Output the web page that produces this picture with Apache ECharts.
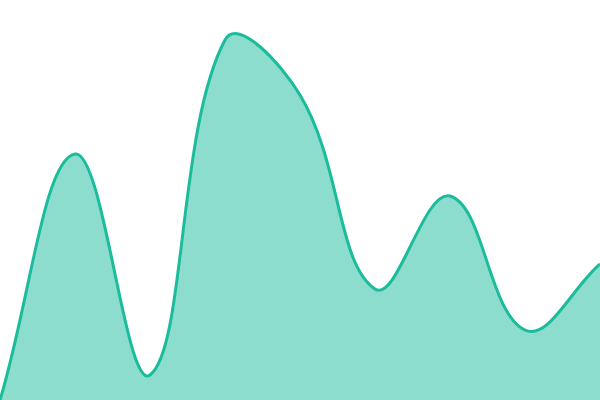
<!DOCTYPE html>
<html><head><meta charset="utf-8">
<script src="https://cdn.jsdelivr.net/npm/echarts@6/dist/echarts.min.js"></script>
<style>html,body{margin:0;padding:0;background:#fff}#c{width:600px;height:400px}</style>
</head><body><div id="c"></div>
<script>
const categories = ['1','2','3','4','5','6','7','8','9'];
const values = [0, 246, 25, 360, 305, 111, 204, 70, 136];
const chart = echarts.init(document.getElementById('c'));

// length-weighted cardinal spline (tension 0.4) through the coordinates given by the axes
function curvePath(pts, t) {
  const dist = (a, b) => Math.hypot(a[0] - b[0], a[1] - b[1]);
  const cps = pts.map((p, i) => {
    const p0 = pts[i - 1] || p, p2 = pts[i + 1] || p;
    const d01 = dist(p0, p), d12 = dist(p, p2);
    let s01 = d01 / (d01 + d12), s12 = d12 / (d01 + d12);
    if (!isFinite(s01)) s01 = 0;
    if (!isFinite(s12)) s12 = 0;
    const fa = t * s01, fb = t * s12;
    return {
      prev: [p[0] - fa * (p2[0] - p0[0]), p[1] - fa * (p2[1] - p0[1])],
      next: [p[0] + fb * (p2[0] - p0[0]), p[1] + fb * (p2[1] - p0[1])]
    };
  });
  let d = 'M' + pts[0][0] + ' ' + pts[0][1];
  for (let i = 0; i < pts.length - 1; i++) {
    const a = cps[i].next, b = cps[i + 1].prev, p = pts[i + 1];
    d += ' C' + a[0] + ' ' + a[1] + ' ' + b[0] + ' ' + b[1] + ' ' + p[0] + ' ' + p[1];
  }
  return d;
}

function renderItem(params, api) {
  if (params.dataIndex !== 0) return null;
  const pts = [];
  for (let i = 0; i < values.length; i++) pts.push(api.coord([i, values[i]]));
  const base = api.coord([0, 0])[1];
  const d = curvePath(pts, 0.4);
  const last = pts[pts.length - 1];
  const area = d + ' L' + last[0] + ' ' + base + ' L' + pts[0][0] + ' ' + base + ' Z';
  return {
    type: 'group',
    children: [
      {type: 'path', shape: {pathData: area}, style: {fill: 'rgba(26,188,156,0.5)', stroke: null}},
      {type: 'path', shape: {pathData: d}, style: {fill: null, stroke: '#1abc9c', lineWidth: 3}}
    ]
  };
}

chart.setOption({
  animation: false,
  grid: {left: 0, right: 0, top: 0, bottom: 0},
  xAxis: {type: 'category', data: categories, boundaryGap: false, show: false},
  yAxis: {type: 'value', min: 0, max: 400, show: false},
  series: [{
    type: 'custom', data: values, renderItem: renderItem, clip: true
  }]
});
</script></body></html>
